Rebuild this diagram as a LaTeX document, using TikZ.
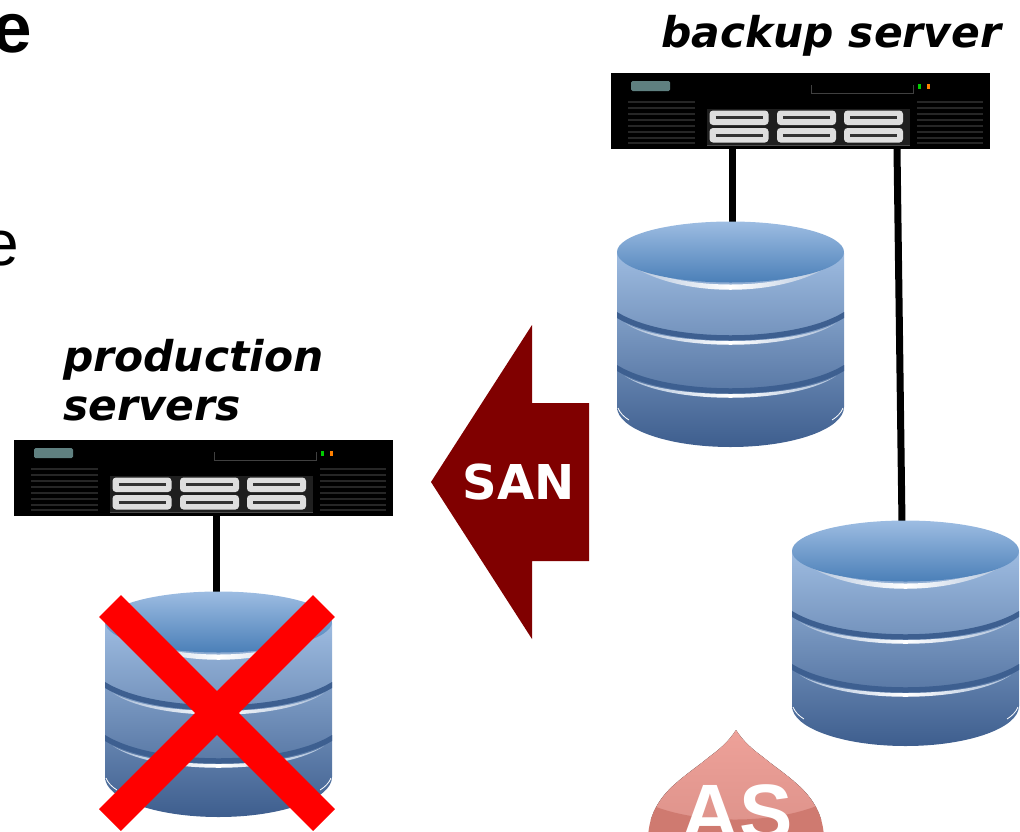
\documentclass[tikz,border=0pt]{standalone}
\usepackage{fontspec}
\setmainfont{DejaVu Sans}
\newfontfamily\headfont{Liberation Sans}
\usetikzlibrary{calc}
\definecolor{sanred}{HTML}{800000}
\definecolor{dbtop}{HTML}{9DBDE2}
\definecolor{dbmid}{HTML}{4B7FB8}
\definecolor{dbside}{HTML}{9DBBE0}
\definecolor{dbbot}{HTML}{3E5E8E}
\definecolor{dbband}{HTML}{3D5F90}
\definecolor{dbfade}{HTML}{A9BDD8}
\definecolor{ventc}{HTML}{262626}
\definecolor{dropa}{HTML}{EEA199}
\definecolor{dropb}{HTML}{DF948C}
\definecolor{dropc}{HTML}{CF7A70}
\definecolor{ledc}{HTML}{5F8080}
\tikzset{
  x=1pt,y=-1pt,
  link/.style={line width=7pt,black},
  label/.style={font=\fontsize{42.4}{49}\selectfont\bfseries\itshape,anchor=base west,inner sep=0pt,align=left},
  drive/.style={fill=black!13,draw=none,rounded corners=3.5pt},
  slot/.style={line width=3.2pt,black!80},
  vent/.style={line width=2pt,ventc},
  shine/.style={left color=dbfade,right color=dbfade,middle color=white,draw=none},
  crossbar/.style={line width=31pt,red},
}
\newcommand{\serverbox}[3]{%
 \node[fill=black,inner sep=0pt,minimum width=379pt,minimum height=76pt,anchor=north west] (#3) at (#1,#2) {};
 \begin{scope}[shift={(#1,#2)}]
  \fill[fill=ledc,rounded corners=1.5pt] (20,8) rectangle (59,18);
  \foreach \v in {29,35,41,47,53,59,65,70}{\draw[vent] (17,\v) -- (84,\v);\draw[vent] (306,\v) -- (372,\v);}
  \draw[line width=1pt,black!75] (200,12) -- (200,20) -- (302,20) -- (302,12);
  \fill[green!80!black] (306.5,10.5) rectangle (309.5,15.5);
  \fill[orange] (315.5,10.5) rectangle (318.5,15.5);
  \fill[black!88] (96,36) rectangle (299,73);
  \draw[line width=1pt,black!70] (96,72.5) -- (299,72.5);
  \foreach \c in {98.5,166,233}{
   \foreach \r in {37.5,55}{
    \fill[drive] (\c,\r) rectangle ++(59,14.5);
    \draw[slot] (\c+6,\r+7.2) -- ++(47,0);
   }}
 \end{scope}}
\newcommand{\dbshape}[3]{%
 \node[inner sep=0pt,minimum width=227pt,minimum height=226pt,anchor=north west] (#3) at (#1,#2) {};
 \begin{scope}[shift={(#1,#2)}]
  \path[top color=dbside,bottom color=dbbot,draw=none]
    (0,32) -- (0,186) .. controls (0,208) and (51,226) .. (113.5,226) .. controls (176,226) and (227,208) .. (227,186)
    -- (227,32) -- cycle;
  \foreach \d in {0,53}{
   \fill[dbband] (0,91+\d) .. controls (50,122+\d) and (177,122+\d) .. (227,91+\d)
     -- (227,97+\d) .. controls (177,127+\d) and (50,127+\d) .. (0,97+\d) -- cycle;
   \path[shine] (8,102+\d) .. controls (50,126+\d) and (177,126+\d) .. (219,102+\d)
     .. controls (177,131+\d) and (50,131+\d) .. (8,102+\d) -- cycle;
  }
  \path[shine] (2,35) .. controls (50,73) and (177,73) .. (225,35)
     .. controls (177,80) and (50,80) .. (2,35) -- cycle;
  \path[top color=dbtop,bottom color=dbmid,draw=none] (113.5,31) ellipse[x radius=113.5,y radius=30.5];
  \draw[line width=.8pt,white] (1,187) .. controls (3,192) and (7,196) .. (12,199);
  \draw[line width=.8pt,white] (226,187) .. controls (224,192) and (220,196) .. (215,199);
 \end{scope}}
\begin{document}
\begin{tikzpicture}
\useasboundingbox (0,0) rectangle (1020,831);
\clip (0,0) rectangle (1020,831);
% partly visible slide text
\node[font=\headfont\bfseries\fontsize{71}{71}\selectfont,anchor=base east,inner sep=0pt] (heade) at (32.5,52) {e};
\node[font=\headfont\fontsize{64}{64}\selectfont,anchor=base east,inner sep=0pt] (texte) at (19,265) {e};
% labels
\node[label] (lblb) at (661,47) {backup server};
\node[label] (lblp) at (63,420) {production\\servers};
% servers and disks
\serverbox{611}{73}{sv1}
\serverbox{14}{440}{sv2}
\coordinate (c1a) at (732,149);
\coordinate (c1b) at (732,225);
\coordinate (c2a) at (897,149);
\coordinate (c2b) at (902,524);
\coordinate (c3a) at (216,516);
\coordinate (c3b) at (216,595);
\draw[link] (c1a) -- (c1b);
\draw[link] (c2a) -- (c2b);
\draw[link] (c3a) -- (c3b);
\dbshape{617}{221}{db1}
\dbshape{792}{520}{db2}
\dbshape{105}{591}{db3}
% SAN arrow
\path[fill=sanred] (431,482) -- (532,325) -- (532,403) -- (589,403) -- (589,561) -- (532,561) -- (532,639) -- cycle;
\node[font=\fontsize{48}{48}\selectfont\bfseries,text=white,anchor=base,inner sep=0pt] (san) at (518.5,499) {SAN};
% red cross
\coordinate (xa) at (110,606);
\coordinate (xb) at (324,820);
\coordinate (xc) at (324,606);
\coordinate (xd) at (110,820);
\draw[crossbar] (xa) -- (xb);
\draw[crossbar] (xc) -- (xd);
% logo
\begin{scope}
 \clip (736,730) .. controls (743,741) and (752,749) .. (763,757) .. controls (775,767) and (786,774) .. (797,784) .. controls (812,797) and (824,815) .. (824,840)
   -- (648,840) .. controls (648,815) and (660,797) .. (675,784) .. controls (686,774) and (697,767) .. (709,757) .. controls (720,749) and (729,741) .. (736,730) -- cycle;
 \fill[top color=dropa,bottom color=dropb,draw=none] (640,730) rectangle (830,820);
 \fill[dropc] (640,800) .. controls (690,826) and (780,826) .. (830,800) -- (830,835) -- (640,835) -- cycle;
\end{scope}
\node[font=\headfont\bfseries\fontsize{80}{80}\selectfont,text=white,anchor=base,inner sep=0pt] (logo) at (737,840) {AS};
\end{tikzpicture}
\end{document}
